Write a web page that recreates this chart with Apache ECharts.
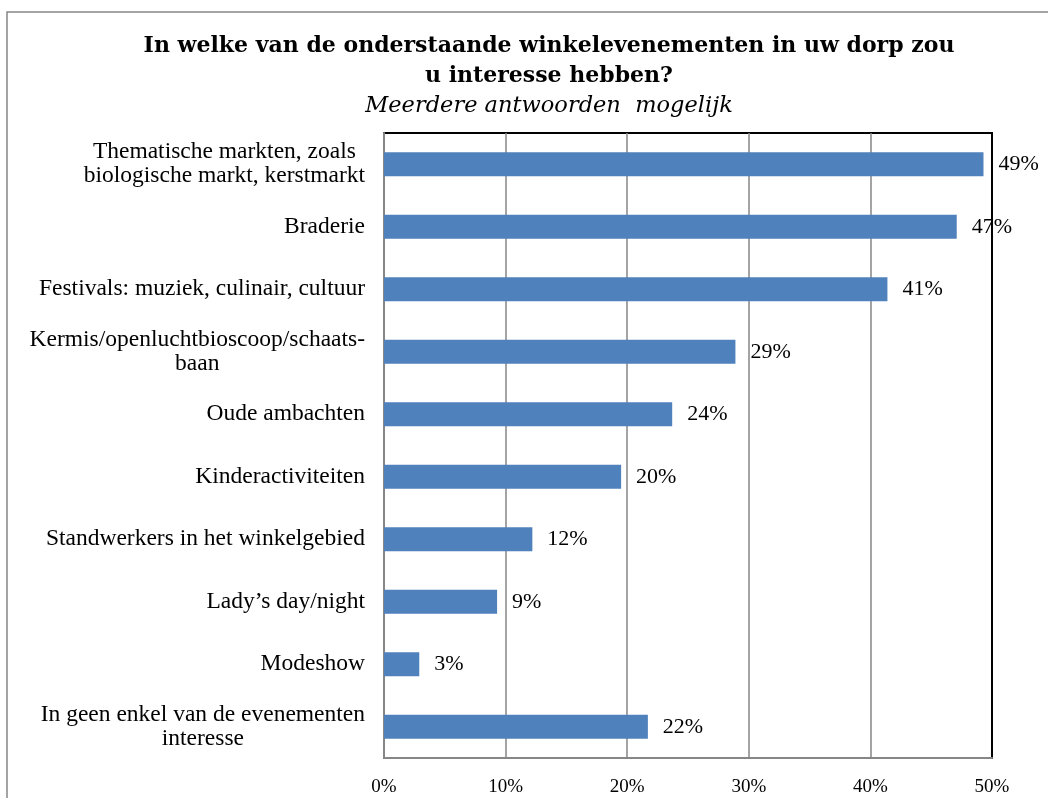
<!DOCTYPE html>
<html>
<head>
<meta charset="utf-8">
<script src="https://cdn.jsdelivr.net/npm/echarts@6/dist/echarts.min.js"></script>
<style>
  html, body { margin: 0; padding: 0; background: #fff; }
  #chart-container { width: 1048px; height: 798px; }
</style>
</head>
<body>
<div id="chart-container"></div>
<script>
// categorieen, van boven naar beneden
const categories = [
    'Thematische markten, zoals\nbiologische markt, kerstmarkt',
    'Braderie',
    'Festivals: muziek, culinair, cultuur',
    'Kermis/openluchtbioscoop/schaats-\nbaan',
    'Oude ambachten',
    'Kinderactiviteiten',
    'Standwerkers in het winkelgebied',
    'Lady\u2019s day/night',
    'Modeshow',
    'In geen enkel van de evenementen\ninteresse'
];
const values = [49.3, 47.1, 41.4, 28.9, 23.7, 19.5, 12.2, 9.3, 2.9, 21.7];

const font = 'Liberation Serif';
const titleFont = 'DejaVu Serif';
const gray = '#868686';

const myChart = echarts.init(document.getElementById('chart-container'));

const option = {
    animation: false,
    title: {
        text: 'In welke van de onderstaande winkelevenementen in uw dorp zou\nu interesse hebben?',
        subtext: 'Meerdere antwoorden  mogelijk',
        left: 549,
        top: 31,
        padding: 0,
        textAlign: 'center',
        itemGap: 0,
        textStyle: {
            fontFamily: titleFont,
            fontSize: 22,
            fontWeight: 'bold',
            color: '#000',
            lineHeight: 30,
        },
        subtextStyle: {
            fontFamily: titleFont,
            fontSize: 22.5,
            fontStyle: 'italic',
            color: '#000',
            lineHeight: 30,
        },
    },
    graphic: [{
        type: 'rect',
        shape: { x: 7, y: 12, width: 1200, height: 1000 },
        style: { fill: 'none', stroke: gray, lineWidth: 1.5 },
        silent: true,
    }],
    grid: {
        left: 384,
        right: 56,
        top: 133,
        bottom: 40,
        show: true,
        borderColor: '#000',
        borderWidth: 2,
    },
    xAxis: {
        type: 'value',
        min: 0,
        max: 50,
        interval: 10,
        axisLine: { show: true, lineStyle: { color: gray, width: 2 } },
        axisTick: { show: false },
        axisLabel: {
            formatter: '{value}%',
            margin: 20,
            fontFamily: font,
            fontSize: 19,
            color: '#000',
        },
        splitLine: {
            show: true,
            showMinLine: false,
            showMaxLine: false,
            lineStyle: { color: gray, width: 1.5 },
        },
    },
    yAxis: {
        type: 'category',
        inverse: true,
        data: categories,
        axisLine: { show: true, lineStyle: { color: gray, width: 2 } },
        axisTick: { show: false },
        axisLabel: {
            margin: 19,
            formatter: function (value) {
                // elke regel gecentreerd binnen het label
                return value.split('\n').map(line => '{c|' + line + '}').join('\n');
            },
            rich: {
                c: {
                    align: 'center',
                    fontFamily: font,
                    fontSize: 23.5,
                    lineHeight: 24,
                    color: '#000',
                },
            },
        },
    },
    series: [{
        type: 'bar',
        data: values,
        barWidth: 24,
        itemStyle: { color: '#4F81BD' },
        label: {
            show: true,
            position: 'right',
            distance: 15,
            formatter: p => Math.round(p.value) + '%',
            fontFamily: font,
            fontSize: 22,
            color: '#000',
        },
    }],
};

myChart.setOption(option);
</script>
</body>
</html>
